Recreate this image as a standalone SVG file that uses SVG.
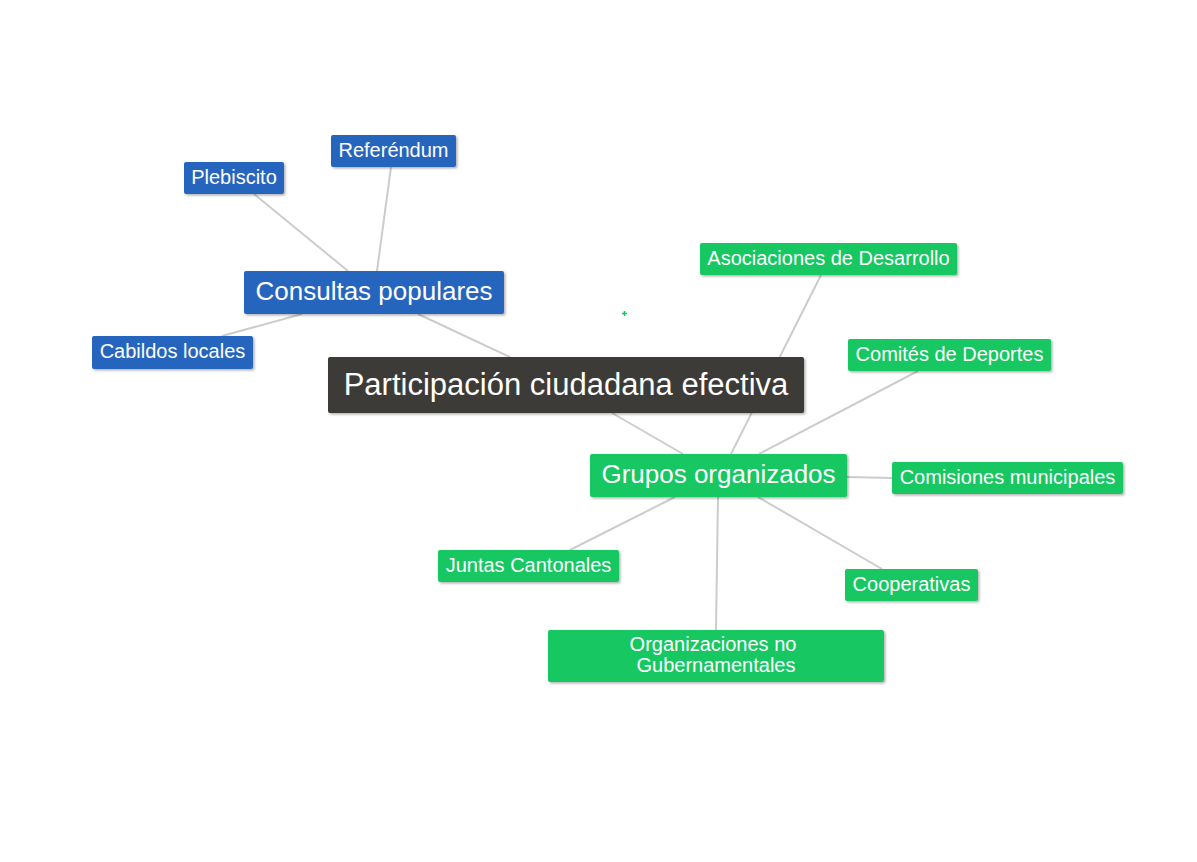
<svg xmlns="http://www.w3.org/2000/svg" width="1197" height="862" viewBox="0 0 1197 862">
<style>
.blue{fill:#2565be}
.green{fill:#19c762}
.dark{fill:#3e3a39}
.box{filter:url(#sh)}
text{font-family:"Liberation Sans",Arial,sans-serif;fill:#fff;text-anchor:middle}
.t1{font-size:31px}
.t2{font-size:26px}
.t3{font-size:20px}
.con line{stroke:#cccccc;stroke-width:2}
</style>
<defs>
<filter id="sh" x="-10%" y="-20%" width="120%" height="150%">
<feDropShadow dx="1.5" dy="1.5" stdDeviation="1" flood-color="#000" flood-opacity="0.3"/>
</filter>
</defs>
<rect width="1197" height="862" fill="#fff"/>
<g class="con">
<line x1="254" y1="194" x2="348" y2="271"/>
<line x1="391" y1="167" x2="377" y2="271"/>
<line x1="222" y1="336" x2="302" y2="314"/>
<line x1="418" y1="314" x2="510" y2="357"/>
<line x1="612" y1="413" x2="683" y2="454"/>
<line x1="821" y1="275" x2="731" y2="454"/>
<line x1="918" y1="371" x2="759" y2="454"/>
<line x1="847" y1="477" x2="892" y2="478"/>
<line x1="675" y1="497" x2="570" y2="550"/>
<line x1="718" y1="497" x2="716" y2="630"/>
<line x1="758" y1="497" x2="882" y2="569"/>
</g>
<g id="plebiscito"><rect class="blue box" x="184" y="162" width="100" height="32" rx="2"/><text class="t3" x="234" y="184">Plebiscito</text></g>
<g id="referendum"><rect class="blue box" x="331" y="135" width="125" height="32" rx="2"/><text class="t3" x="393.5" y="157">Referéndum</text></g>
<g id="consultas"><rect class="blue box" x="244" y="271" width="260" height="43" rx="2"/><text class="t2" x="374" y="300">Consultas populares</text></g>
<g id="cabildos"><rect class="blue box" x="92" y="336" width="161" height="33" rx="2"/><text class="t3" x="172.5" y="358">Cabildos locales</text></g>
<g id="participacion"><rect class="dark box" x="328" y="357" width="476" height="56" rx="2"/><text class="t1" x="566" y="395">Participación ciudadana efectiva</text></g>
<g id="grupos"><rect class="green box" x="590" y="454" width="257" height="43" rx="2"/><text class="t2" x="718.5" y="483">Grupos organizados</text></g>
<g id="asociaciones"><rect class="green box" x="700" y="243" width="257" height="32" rx="2"/><text class="t3" x="828.5" y="265">Asociaciones de Desarrollo</text></g>
<g id="comites"><rect class="green box" x="848" y="339" width="203" height="32" rx="2"/><text class="t3" x="949.5" y="361">Comités de Deportes</text></g>
<g id="comisiones"><rect class="green box" x="892" y="462" width="231" height="32" rx="2"/><text class="t3" x="1007.5" y="484">Comisiones municipales</text></g>
<g id="juntas"><rect class="green box" x="438" y="550" width="181" height="32" rx="2"/><text class="t3" x="528.5" y="572">Juntas Cantonales</text></g>
<g id="cooperativas"><rect class="green box" x="845" y="569" width="133" height="32" rx="2"/><text class="t3" x="911.5" y="591">Cooperativas</text></g>
<g id="organizaciones"><rect class="green box" x="548" y="630" width="336" height="52" rx="2"/><text class="t3" x="713" y="651">Organizaciones no</text><text class="t3" x="716" y="672">Gubernamentales</text></g>
<g id="marker"><path d="M622 313.5h5M624.5 311v5" stroke="#19c762" stroke-width="1.5"/></g>
</svg>
